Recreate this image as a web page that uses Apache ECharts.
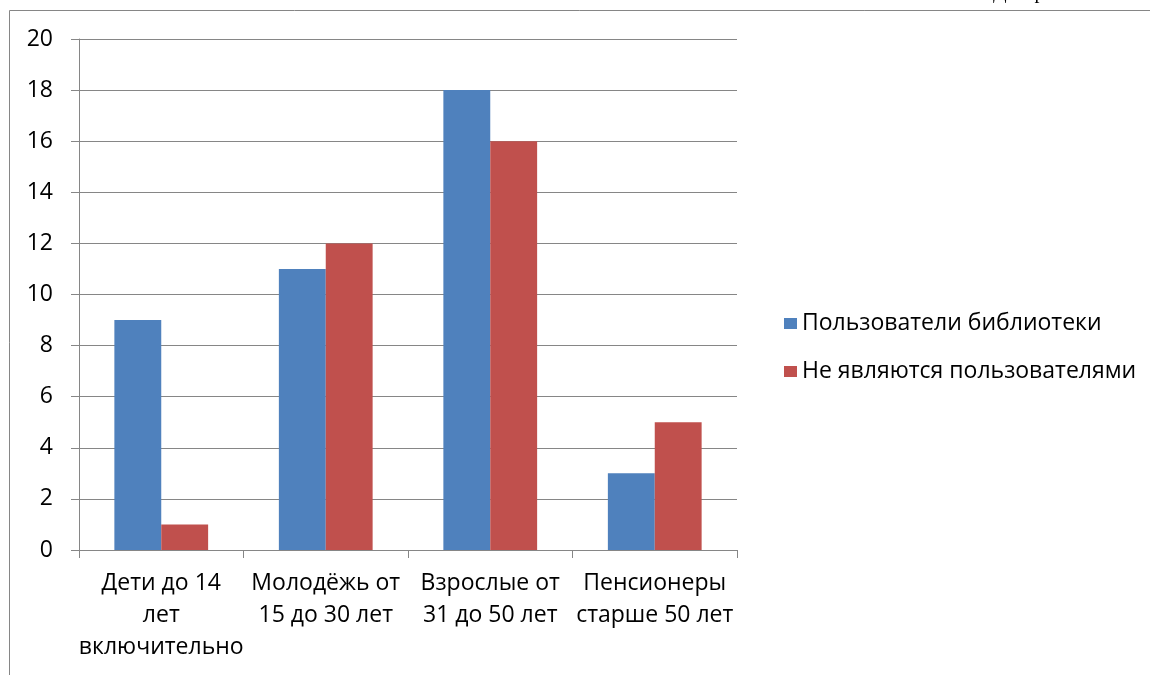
<!DOCTYPE html>
<html>
<head>
<meta charset="utf-8">
<title>Пользователи библиотеки</title>
<script src="https://cdn.jsdelivr.net/npm/echarts@6/dist/echarts.min.js"></script>
<style>
  html, body { margin: 0; padding: 0; background: #fff; }
  #chart { width: 1150px; height: 675px; }
</style>
</head>
<body>
<div id="chart"></div>
<script>
// Age groups along the x axis
const categories = [
  'Дети до 14\nлет\nвключительно',
  'Молодёжь от\n15 до 30 лет',
  'Взрослые от\n31 до 50 лет',
  'Пенсионеры\nстарше 50 лет'
];
const seriesNames = ['Пользователи библиотеки', 'Не являются пользователями'];
const usersValues = [9, 11, 18, 3];
const nonUsersValues = [1, 12, 16, 5];
const yTicks = { min: 0, max: 20, interval: 2 };

const font = '"Open Sans", "Noto Sans", sans-serif';
const fontSize = 23;
const gray = '#868686';

const chart = echarts.init(document.getElementById('chart'), null, { renderer: 'canvas' });
chart.setOption({
  animation: false,
  backgroundColor: '#ffffff',
  textStyle: { fontFamily: font },
  grid: { left: 79, top: 39, right: 413, bottom: 125, containLabel: false },
  legend: {
    orient: 'vertical',
    left: 779,
    top: 307,
    icon: 'rect',
    itemWidth: 13,
    itemHeight: 11,
    itemGap: 25,
    textStyle: { fontFamily: font, fontSize: fontSize, color: '#000' },
    data: seriesNames
  },
  xAxis: {
    type: 'category',
    data: categories,
    axisLine: { lineStyle: { color: gray, width: 1 } },
    axisTick: { show: true, length: 8, alignWithLabel: false, lineStyle: { color: gray } },
    axisLabel: {
      interval: 0, margin: 17, color: '#000', fontFamily: font, fontSize: fontSize,
      lineHeight: 32, align: 'center'
    },
    splitLine: { show: false }
  },
  yAxis: {
    type: 'value',
    min: yTicks.min, max: yTicks.max, interval: yTicks.interval,
    axisLine: { show: true, lineStyle: { color: gray, width: 1 } },
    axisTick: { show: true, length: 8, lineStyle: { color: gray } },
    axisLabel: { margin: 26, color: '#000', fontFamily: font, fontSize: fontSize },
    splitLine: { show: true, lineStyle: { color: gray, width: 1 } }
  },
  series: [
    {
      name: seriesNames[0], type: 'bar', data: usersValues,
      itemStyle: { color: '#4F81BD' },
      barGap: '0%', barCategoryGap: '43%'
    },
    {
      name: seriesNames[1], type: 'bar', data: nonUsersValues,
      itemStyle: { color: '#C0504D' },
      barGap: '0%', barCategoryGap: '43%'
    }
  ],
  graphic: [
    // frame lines on the top and left edges
    { type: 'line', shape: { x1: 9.5, y1: 10.5, x2: 1150, y2: 10.5 }, style: { stroke: gray, lineWidth: 1 }, silent: true },
    { type: 'line', shape: { x1: 9.5, y1: 10.5, x2: 9.5, y2: 675 }, style: { stroke: gray, lineWidth: 1 }, silent: true },
    // page heading running off the top edge
    { type: 'text', left: 993, top: -17, style: { text: 'Диаграмма', font: '20px "Liberation Serif", serif', fill: '#000' }, silent: true }
  ]
});
</script>
</body>
</html>
